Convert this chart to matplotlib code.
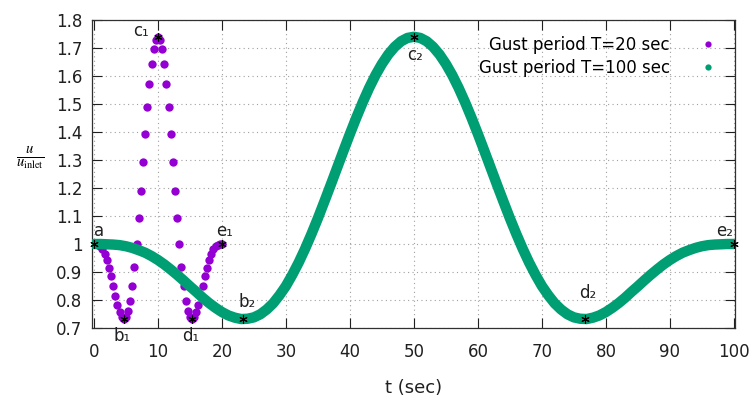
import matplotlib
matplotlib.use('Agg')
from matplotlib import pyplot as plt
from matplotlib.lines import Line2D
import numpy as np

# gust period T=20 sec, one sample every 1/3 sec
t20 = np.arange(61) / 3
u20 = [1.000, 1.000, 0.998, 0.992, 0.981, 0.965, 0.943, 0.915, 0.884, 0.849,
       0.815, 0.783, 0.757, 0.739, 0.732, 0.738, 0.760, 0.797, 0.850, 0.919,
       1.000, 1.092, 1.191, 1.293, 1.393, 1.488, 1.573, 1.643, 1.696, 1.729,
       1.740,
       1.729, 1.696, 1.643, 1.573, 1.488, 1.393, 1.293, 1.191, 1.092, 1.000,
       0.919, 0.850, 0.797, 0.760, 0.738, 0.732, 0.739, 0.757, 0.783, 0.815,
       0.849, 0.884, 0.915, 0.943, 0.965, 0.981, 0.992, 0.998, 1.000, 1.000]

# gust period T=100 sec, one sample every sec
t100 = np.arange(101)
u100 = [1.000, 1.000, 0.999, 0.998, 0.996, 0.992, 0.986, 0.978, 0.969, 0.957,
        0.943, 0.927, 0.909, 0.890, 0.870, 0.849, 0.829, 0.808, 0.789, 0.772,
        0.757, 0.745, 0.737, 0.732, 0.733, 0.738, 0.749, 0.766, 0.788, 0.817,
        0.850, 0.890, 0.934, 0.983, 1.036, 1.092, 1.151, 1.211, 1.272, 1.333,
        1.393, 1.451, 1.506, 1.557, 1.603, 1.643, 1.677, 1.704, 1.724, 1.736,
        1.740,
        1.736, 1.724, 1.704, 1.677, 1.643, 1.603, 1.557, 1.506, 1.451, 1.393,
        1.333, 1.272, 1.211, 1.151, 1.092, 1.036, 0.983, 0.934, 0.890, 0.850,
        0.817, 0.788, 0.766, 0.749, 0.738, 0.733, 0.732, 0.737, 0.745, 0.757,
        0.772, 0.789, 0.808, 0.829, 0.849, 0.870, 0.890, 0.909, 0.927, 0.943,
        0.957, 0.969, 0.978, 0.986, 0.992, 0.996, 0.998, 0.999, 1.000, 1.000]

# marked points: name, t, u, label offset (points)
mark_names = ['a', 'b₁', 'c₁', 'd₁', 'e₁', 'b₂', 'c₂', 'd₂', 'e₂']
mark_t = [0, 4.66, 10, 15.34, 20, 23.3, 50, 76.7, 100]
mark_u = [1.0, 0.732, 1.74, 0.732, 1.0, 0.732, 1.74, 0.732, 1.0]
mark_off = [(4, 9), (-1, -12), (-12, 4), (-1, -12), (2, 9),
            (3, 12), (1, -13), (2, 19), (-7, 9)]

purple = '#9400d3'
green = '#009e73'

fig = plt.figure(figsize=(7.54, 4.0), dpi=100)
ax = fig.add_axes([0.122, 0.18, 0.853, 0.77])

ax.plot(t20, u20, 'o', color=purple, ms=6, mew=0, zorder=2)
ax.plot(t100, u100, '-', color=green, lw=7.5, solid_capstyle='round',
        solid_joinstyle='round', zorder=3)

ax.plot(mark_t, mark_u, ls='none', marker=(6, 2, 0), color='black',
        ms=6, mew=0.8, zorder=5, clip_on=False)
for name, tx, uy, off in zip(mark_names, mark_t, mark_u, mark_off):
    ax.annotate(name, (tx, uy), xytext=off, textcoords='offset points',
                ha='center', va='center', fontsize=12, color='#202020')

ax.set_xlim(-0.3, 100.2)
ax.set_ylim(0.7, 1.8)
ax.set_xticks(np.arange(0, 101, 10))
ax.set_yticks(np.arange(0.7, 1.81, 0.1))
ax.set_yticklabels(['%g' % round(v, 1) for v in np.arange(0.7, 1.81, 0.1)])
ax.tick_params(direction='in', top=True, right=True, length=7, width=0.8,
               labelsize=12, pad=7, colors='#202020')
ax.tick_params(axis='x', pad=11)
ax.grid(True, ls=(0, (1, 3)), color='#a0a0a0', lw=0.8)
for s in ax.spines.values():
    s.set_color('#303030')
    s.set_linewidth(0.9)

ax.set_xlabel('t (sec)', fontsize=13, labelpad=13, color='#202020')
plt.rcParams['mathtext.fontset'] = 'stix'
fig.text(0.040, 0.605, r'$\frac{u}{u_{\rm inlet}}$', fontsize=15,
         ha='center', va='center')

handles = [Line2D([], [], ls='none', marker='o', color=purple, ms=4.5, mew=0),
           Line2D([], [], ls='none', marker='o', color=green, ms=4.5, mew=0)]
ax.legend(handles, ['Gust period T=20 sec', 'Gust period T=100 sec'],
          loc='upper right', frameon=False, markerfirst=False, fontsize=12,
          handletextpad=1.3, labelspacing=0.3, borderaxespad=0.3,
          bbox_to_anchor=(1.002, 0.985))

fig.savefig('out.png', dpi=100)
